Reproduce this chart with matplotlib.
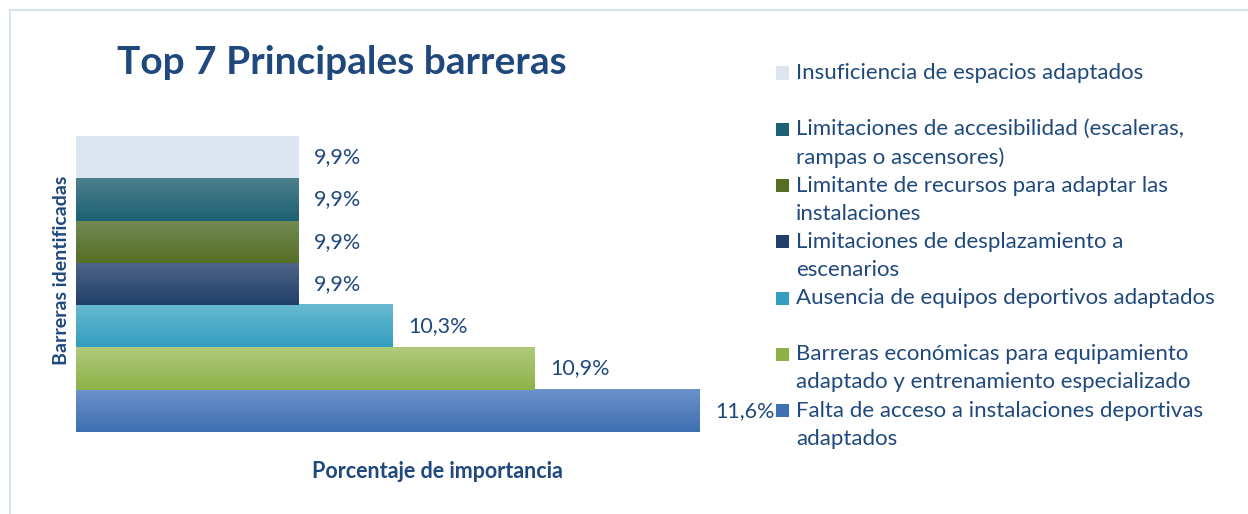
import numpy as np
import matplotlib
matplotlib.use("Agg")
import matplotlib.pyplot as plt
from matplotlib.colors import LinearSegmentedColormap
from matplotlib.patches import Rectangle

# datos (de abajo hacia arriba)
barreras = [
    "Falta de acceso a instalaciones deportivas\nadaptados",
    "Barreras económicas para equipamiento\nadaptado y entrenamiento especializado",
    "Ausencia de equipos deportivos adaptados",
    "Limitaciones de desplazamiento a\nescenarios",
    "Limitante de recursos para adaptar las\ninstalaciones",
    "Limitaciones de accesibilidad (escaleras,\nrampas o ascensores)",
    "Insuficiencia de espacios adaptados",
]
porcentajes = [11.6, 10.9, 10.3, 9.9, 9.9, 9.9, 9.9]
etiquetas = ["11,6%", "10,9%", "10,3%", "9,9%", "9,9%", "9,9%", "9,9%"]

# colores: (arriba claro, abajo oscuro)
colores = [
    ("#6C92C9", "#3E70B2"),
    ("#AFCA7C", "#8DB248"),
    ("#69BAD0", "#349EBF"),
    ("#4F6588", "#213F6A"),
    ("#728B54", "#566E24"),
    ("#4D808C", "#1C6174"),
    ("#DCE6F2", "#DCE6F2"),
]

azul = "#1F497D"
W, H = 1248, 514
plt.rcParams['font.family'] = ['Lato', 'DejaVu Sans']

fig = plt.figure(figsize=(W / 100, H / 100), dpi=100)

# marco del gráfico
fig.patches.append(Rectangle((10 / W, -0.1), 1.2, (H - 10) / H + 0.1,
                             transform=fig.transFigure, fill=False,
                             edgecolor="#D5E2F0", linewidth=1.5))

# ejes: x de 76 a 700 px, y de 136 a 432 px
ax = fig.add_axes([76 / W, (H - 432) / H, (700 - 76) / W, (432 - 136) / H])
x0 = 8.96
grad = np.linspace(0, 1, 64).reshape(-1, 1)
for i, (v, (c_top, c_bot)) in enumerate(zip(porcentajes, colores)):
    cmap = LinearSegmentedColormap.from_list("g%d" % i, [c_bot, c_top])
    ax.imshow(grad, extent=[x0, v, i - 0.5, i + 0.5], origin="lower",
              aspect="auto", cmap=cmap, interpolation="bilinear")
    ax.text(v + 0.065, i, etiquetas[i], va="center", ha="left",
            fontsize=15.5, color=azul, clip_on=False)

ax.set_xlim(x0, max(porcentajes))
ax.set_ylim(-0.5, len(porcentajes) - 0.5)
ax.set_xticks([])
ax.set_yticks([])
for s in ax.spines.values():
    s.set_visible(False)

# títulos
fig.text(117 / W, 1 - 62 / H, "Top 7 Principales barreras", fontsize=28,
         fontweight="bold", color=azul, va="center", ha="left")
fig.text(437 / W, 1 - 472 / H, "Porcentaje de importancia", fontsize=15.5,
         fontweight="bold", color=azul, va="center", ha="center")
fig.text(62 / W, 1 - 270 / H, "Barreras identificadas", fontsize=14,
         fontweight="bold", color=azul, va="center", ha="center",
         rotation=90)

# leyenda (de arriba hacia abajo)
for k, idx in enumerate(range(len(barreras) - 1, -1, -1)):
    y = 73 + 56.3 * k
    fig.patches.append(Rectangle((776 / W, 1 - (y + 6.5) / H), 13 / W, 13 / H,
                                 transform=fig.transFigure,
                                 facecolor=colores[idx][1], edgecolor="none"))
    for j, linea in enumerate(barreras[idx].split("\n")):
        fig.text(796 / W, 1 - (y + 28 * j) / H, linea, fontsize=16,
                 color=azul, va="center", ha="left")

fig.savefig("out.png", dpi=100)
